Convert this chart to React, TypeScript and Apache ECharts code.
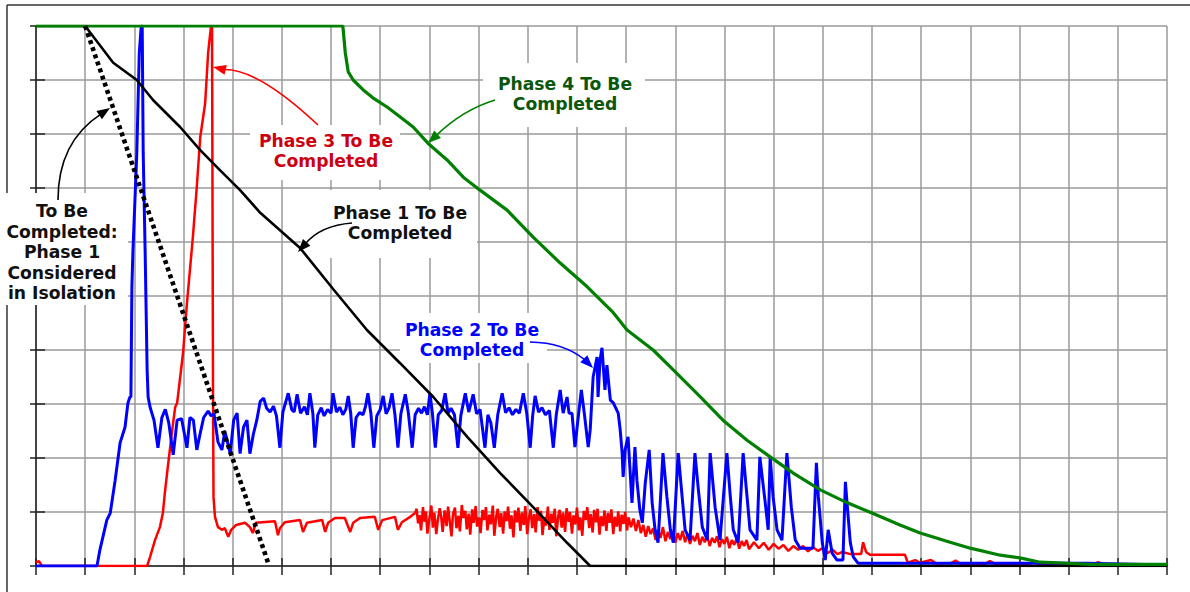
import React, { useEffect, useRef } from "react";
import * as echarts from "echarts";

// X axis: 0..230 (23 grid cells), Y axis: 0..100 (10 grid cells)
const xTicks = { min: 0, max: 230, interval: 10 };
const yTicks = { min: 0, max: 100, interval: 10 };

const phase1Pts: [number, number][] = [
  [0, 100], [10, 100], [15.7, 93.2], [20.5, 90], [23.8, 86.3], [29.3, 81.3], [33.4, 77],
  [37.4, 73.3], [41.5, 69.6], [45.6, 65.4], [53.7, 58.9], [60.5, 51.2], [67.3, 43.7],
  [74, 37.6], [80.8, 31.3], [87.7, 23.9], [94.4, 17.2], [101.1, 10.9], [108, 4.3],
  [112.7, 0], [230, 0],
];

const isolationPts: [number, number][] = [
  [10, 100], [47.2, 0.6],
];

const phase4Pts: [number, number][] = [
  [0, 100], [62.4, 100], [62.9, 95], [63.5, 91.5], [64.5, 90], [66.5, 88.2], [68.5, 86.7],
  [71.4, 85], [74, 83.2], [76.7, 81.3], [79.7, 78.3], [83.6, 75.2], [86.9, 72], [90.3, 69.6],
  [95.8, 65.9], [101.1, 60.9], [106.6, 56.1], [112.1, 51.7], [117.4, 46.9], [120.2, 43.7],
  [125.5, 40], [129.6, 36.3], [135.1, 31.3], [139.7, 27], [144.6, 23.3], [149.3, 20.2],
  [154, 17.2], [159.5, 14.1], [165, 11.7], [170, 9.8], [175.7, 7.6], [179.8, 6.1],
  [185.9, 4.4], [190, 3.3], [196.1, 2], [200.1, 1.5], [204.2, 0.7], [207.7, 0.6],
  [214.4, 0.3], [230, 0.3],
];

const phase2Pts: [number, number][] = [
  [0, 0], [12.4, 0], [13, 3], [14.4, 8.5], [15.1, 9.8], [16.1, 15.9], [17.1, 22.8],
  [18.1, 25.7], [18.7, 30.2], [19.1, 31.3], [19.3, 31.3], [19.5, 51.7], [19.7, 58],
  [20.5, 76.5], [21, 95], [21.4, 100], [21.6, 100], [21.8, 76.5], [22.2, 58], [22.6, 36.3],
  [22.8, 31.3], [23.2, 29.4], [24, 27], [24.8, 21.9], [25.6, 27.5], [26.3, 29], [27, 26.5],
  [27.9, 20.6], [28.7, 27], [29.6, 27.3], [30.7, 21.9], [31.3, 27.5], [32, 27], [32.7, 21.5],
  [33.4, 24.6], [34.1, 27.5], [35, 28.7], [35.6, 27.8], [36.2, 28.2], [37, 23], [37.8, 21.5],
  [38.4, 25], [39.5, 20.8], [40.2, 27], [40.9, 28.3], [41.5, 20.8], [42.2, 25.7], [42.9, 27],
  [43.5, 20.8], [44.2, 24.4], [44.9, 27], [45.6, 30.5], [46.3, 31.1], [46.9, 29.2],
  [47.6, 28.5], [48.3, 29.6], [48.9, 27.8], [49.6, 21.9], [50.2, 28.5], [51.3, 32], [52, 29],
  [52.5, 28.5], [53.1, 31.8], [53.8, 28.3], [54.6, 29.5], [55.2, 28], [55.7, 32], [56.3, 28.3],
  [56.7, 21.9], [57.3, 28], [58, 29.3], [58.6, 27.8], [59.3, 29], [60, 28.3], [60.4, 32],
  [61.1, 28.5], [61.8, 29.4], [62.4, 28], [63, 29], [63.5, 31.5], [64, 28.3], [64.5, 21.9],
  [65.1, 27.5], [65.8, 28.4], [66.5, 28], [67, 29.5], [67.5, 32], [68.1, 28.3], [68.7, 21.9],
  [69.3, 27.8], [70, 29], [70.6, 31.5], [71.2, 28.2], [71.8, 29.3], [72.4, 32], [73, 28],
  [73.6, 21.9], [74.2, 28.2], [75.1, 31.8], [75.7, 28.5], [76.5, 21.9], [77.1, 28],
  [77.8, 29.2], [78.4, 28.3], [79, 29.5], [79.6, 28], [80.1, 32], [80.6, 28.4], [81.2, 21.9],
  [81.8, 28], [82.5, 28.8], [83.2, 32], [83.8, 28.3], [84.4, 29.2], [85.1, 28], [85.8, 21.9],
  [86.4, 27.9], [87.3, 32], [88, 28.5], [88.9, 31.8], [89.6, 28.2], [90.3, 29], [91.3, 21.9],
  [91.9, 28], [92.5, 26.5], [93.2, 21.9], [93.9, 28], [94.8, 32], [95.5, 28.4], [96.2, 29.3],
  [96.9, 28], [97.6, 29], [98.3, 28.3], [99.1, 32], [99.8, 28.3], [100.5, 21.9], [101, 27.8],
  [101.5, 31.5], [102.2, 28.5], [102.9, 29.3], [103.6, 28], [104.4, 28.8], [105.2, 21.9],
  [105.8, 28], [106.6, 32.6], [107.2, 28.3], [108, 31.3], [108.4, 28.3], [109, 28.3],
  [109.6, 22], [110.2, 27], [110.9, 32.6], [111.5, 28.3], [112.3, 22], [112.7, 25.2],
  [113.3, 35], [114.1, 38.7], [114.3, 31.3], [114.7, 38.1], [115.1, 40.4], [115.7, 32.6],
  [116.1, 37.2], [116.8, 30.7], [117.4, 30.2], [118.4, 28.3], [118.8, 25.2], [119.2, 20.9],
  [119.4, 16.5], [119.8, 21.5], [120.4, 23.9], [120.8, 17.8], [121.2, 11.7], [121.8, 22],
  [122.2, 15.9], [122.8, 10.4], [123.3, 8], [123.9, 15.4], [124.7, 21.5], [125.3, 11.7],
  [125.9, 6.7], [126.5, 4.3], [127.5, 20.9], [128.3, 12.8], [129, 6.7], [129.6, 4.3],
  [130.6, 20.9], [131.4, 12.8], [132, 6.7], [133, 4.8], [134, 20.9], [134.7, 14.1],
  [135.5, 7.2], [136.5, 4.8], [137.1, 20.9], [138.1, 10.9], [139.1, 4.8], [140.5, 20.9],
  [141.2, 12.8], [141.8, 6.7], [142.8, 4.3], [143.8, 20.9], [144.6, 12.8], [145.2, 6.7],
  [146.6, 4.8], [147.2, 20.2], [148.3, 11.7], [148.9, 6.7], [149.3, 20.2], [149.9, 12.8],
  [150.7, 6.7], [151.7, 4.8], [152.7, 20.9], [153.6, 10.9], [154.4, 4.8], [155.4, 3.3],
  [158, 3.3], [158.7, 19.1], [159.1, 12.8], [159.9, 4.3], [160.5, 1.1], [161.1, 6.7],
  [161.9, 2.4], [162.9, 1.1], [164.1, 1.1], [164.6, 15.6], [165, 10.9], [165.6, 4.3],
  [166.2, 1.7], [167.2, 0.5], [214, 0.5], [230, 0.2],
];

const phase3Pts: [number, number][] = [
  [0, 0.7], [0.6, 0.9], [1.2, 0], [22.6, 0], [23.2, 1.7], [24.2, 4.8], [25.2, 7.2],
  [25.8, 9.8], [26.2, 13.5], [26.8, 18.3], [27.7, 25.2], [28.3, 29.4], [28.7, 30.2],
  [29.9, 39.4], [30.7, 48.7], [31.9, 60.9], [32.7, 70.2], [33.4, 79.4], [34.4, 85.7],
  [35, 95], [35.6, 100], [35.8, 100], [36, 31.3], [36.1, 12.8], [36.4, 9.1], [37, 7.2],
  [37.8, 6.7], [38.4, 7], [39.1, 5.4], [39.7, 6.7], [40.7, 7.6], [42.5, 8], [43.5, 7.2],
  [44.1, 6.1], [44.7, 8], [46, 8.1], [48.6, 8.3], [49.2, 5.7], [49.6, 7], [50.6, 8.1],
  [53.7, 8.5], [54.3, 6.3], [55.1, 8], [58.2, 8.5], [58.8, 6.3], [59.4, 8], [60.8, 8.9],
  [62.8, 8.9], [63.9, 6.3], [64.5, 8], [65.9, 8.9], [68.9, 9.1], [69.6, 6.7], [70.4, 8.5],
  [73, 9.1], [73.6, 6.7], [74.4, 8.1], [76.1, 9.1], [77.1, 9.8],
  [77.4, 10.6], [77.7, 7.9], [78, 9.4], [78.3, 6.6], [78.7, 10.9], [79, 8.2], [79.3, 10.1],
  [79.6, 6], [80, 8.8], [80.4, 11.2], [80.7, 7.1], [81, 9.9], [81.4, 5.9], [81.7, 8.4],
  [82.1, 10.7], [82.4, 9.1], [82.7, 6.3], [83.1, 10.3], [83.5, 7.4], [83.8, 11], [84.1, 8.6],
  [84.5, 5.5], [84.8, 9.6], [85.2, 10.8], [85.5, 7], [85.9, 9.3], [86.2, 6.4], [86.6, 11.3],
  [86.9, 8.9], [87.3, 10.2], [87.6, 6.8], [88, 9.7], [88.3, 5.8], [88.7, 10.5], [89, 8],
  [89.4, 11.1], [89.7, 7.3], [90.1, 9], [90.4, 6.1], [90.8, 10.4], [91.1, 8.5], [91.5, 10.9],
  [91.8, 6.6], [92.2, 9.5], [92.5, 7.7], [92.9, 11.2], [93.2, 5.6], [93.6, 9.2], [93.9, 10.6],
  [94.3, 7.2], [94.6, 9.8], [95, 6], [95.3, 10.1], [95.7, 8.3], [96, 11], [96.4, 6.9],
  [96.7, 9.4], [97.1, 5.3], [97.4, 10.3], [97.8, 8.1], [98.1, 10.8], [98.5, 6.5], [98.8, 9.9],
  [99.2, 7.6], [99.5, 11.1], [99.9, 5.9], [100.2, 8.7], [100.6, 10.5], [100.9, 7], [101.3, 9.6],
  [101.6, 6.2], [102, 10.9], [102.3, 8.4], [102.7, 10.2], [103, 5.7], [103.4, 9.1], [103.7, 7.5],
  [104.1, 11], [104.4, 6.7], [104.8, 9.7], [105.1, 8], [105.5, 10.6], [105.8, 5.5], [106.2, 9.3],
  [106.5, 10.4], [106.9, 7.1], [107.2, 9.9], [107.6, 6.3], [107.9, 10.7], [108.3, 8.2],
  [108.6, 10], [109, 6], [109.3, 9.4], [109.7, 7.7], [110, 10.8], [110.4, 6.6], [110.7, 9],
  [111.1, 5.6], [111.4, 10.2], [111.8, 8.5], [112.1, 10.9], [112.5, 7], [112.8, 9.6],
  [113.2, 6.2], [113.5, 10.4], [113.9, 8.1], [114.2, 10.6], [114.6, 5.8], [114.9, 9.2],
  [115.3, 7.4], [115.6, 10.3], [116, 6.5], [116.3, 9.8], [116.7, 8], [117, 10.5], [117.4, 5.9],
  [117.7, 9.1], [118.1, 7.3], [118.4, 10.1], [118.8, 6.4], [119.1, 9.5], [119.5, 7.8],
  [119.8, 10], [120.2, 6.6], [120.5, 9], [121, 7.2],
  [121.5, 8.8], [122, 6.5], [122.5, 8.5], [123, 6.1], [123.5, 7.6], [124, 5.4], [124.5, 7.4],
  [125, 5.9], [125.5, 7], [126, 4.8], [126.5, 6.7], [127, 5.2], [127.5, 7.2], [128, 4.6],
  [128.5, 6.3], [129, 5], [129.5, 6.5], [130, 4.3], [130.5, 6.1], [131, 4.8], [131.5, 6.5],
  [132, 4.4], [132.5, 5.9], [133, 4.1], [133.5, 5.6], [134, 4.6], [134.5, 6.1], [135, 3.9],
  [135.5, 5.4], [136, 4.4], [136.5, 5.7], [137, 3.7], [137.5, 5.2], [138, 4.3], [138.5, 5.5],
  [139, 3.5], [139.5, 5], [140, 4.1], [140.5, 5.4], [141, 3.3], [141.5, 4.8], [142, 3.9],
  [142.5, 5.2], [143, 3.2], [143.5, 4.6], [144, 3.7], [144.5, 4.8], [145, 3.1], [146, 4.4],
  [147, 3.3], [148, 4.3], [149, 3], [150, 4.1], [151, 3.2], [152, 3.9], [153, 2.8],
  [154, 3.7], [155, 3], [156, 3.7], [157, 2.7], [158, 3.5], [159, 2.8], [160, 3.3],
  [161, 2.4], [162, 3], [163, 2.2], [164, 2.6], [165.6, 2.2], [167.8, 2.2], [168.2, 4.4],
  [168.8, 2.6], [169.6, 2.1], [176.7, 2.1], [177.3, 0.6], [178.8, 1.1], [179.8, 0.6],
  [182, 1.1], [183, 0.5], [186, 0.5], [187, 1], [188, 0.4], [193, 0.4], [194, 0.9],
  [195, 0.4], [202, 0.4], [203, 0.8], [204, 0.3], [215, 0.3], [216, 0.7], [217, 0.3],
  [228.6, 0.2], [230, 0],
];

const labels = {
  phase1: "Phase 1 To Be\nCompleted",
  phase2: "Phase 2 To Be\nCompleted",
  phase3: "Phase 3 To Be\nCompleted",
  phase4: "Phase 4 To Be\nCompleted",
  isolation: "To Be\nCompleted:\nPhase 1\nConsidered\nin Isolation",
};

const FONT = 'bold 17.2px "DejaVu Sans", sans-serif';

function arrow(
  p0: [number, number],
  cp: [number, number],
  base: [number, number],
  tip: [number, number],
  color: string
) {
  const dx = tip[0] - base[0];
  const dy = tip[1] - base[1];
  const len = Math.sqrt(dx * dx + dy * dy) || 1;
  const ux = dx / len;
  const uy = dy / len;
  const L = 13;
  const W = 5;
  const bx = tip[0] - ux * L;
  const by = tip[1] - uy * L;
  return [
    {
      type: "bezierCurve",
      z: 5,
      shape: { x1: p0[0], y1: p0[1], cpx1: cp[0], cpy1: cp[1], x2: bx + ux * 2, y2: by + uy * 2 },
      style: { stroke: color, lineWidth: 1.6, fill: null },
    },
    {
      type: "polygon",
      z: 5,
      shape: {
        points: [
          [tip[0], tip[1]],
          [bx - uy * W, by + ux * W],
          [bx + uy * W, by - ux * W],
        ],
      },
      style: { fill: color },
    },
  ];
}

function label(text: string, x: number, y: number, color: string, lh = 20) {
  return {
    type: "text",
    z: 10,
    x,
    y,
    style: {
      text,
      fill: color,
      font: FONT,
      align: "center",
      verticalAlign: "middle",
      lineHeight: lh,
    },
  };
}

function whiteBox(x: number, y: number, w: number, h: number) {
  return { type: "rect", z: 1, shape: { x, y, width: w, height: h }, style: { fill: "#ffffff" } };
}

export default function App() {
  const ref = useRef<HTMLDivElement>(null);
  useEffect(() => {
    if (!ref.current) return;
    const chart = echarts.init(ref.current, null, { renderer: "svg" });
    const axisDark = "#222";
    const gridGray = "#9a9a9a";
    const option: any = {
      animation: false,
      backgroundColor: "#ffffff",
      grid: { left: 36, top: 26, width: 1131, height: 540, containLabel: false },
      xAxis: [
        {
          type: "value",
          position: "bottom",
          ...xTicks,
          axisLabel: { show: false },
          axisLine: { show: true, lineStyle: { color: axisDark, width: 1.5 } },
          axisTick: { show: true, length: 9, lineStyle: { color: axisDark, width: 1.5 } },
          splitLine: { show: true, lineStyle: { color: gridGray, width: 1.5 } },
        },
        {
          type: "value",
          position: "bottom",
          ...xTicks,
          axisLabel: { show: false },
          axisLine: { show: false },
          axisTick: { show: true, inside: true, length: 8, lineStyle: { color: axisDark, width: 1.5 } },
          splitLine: { show: false },
        },
      ],
      yAxis: [
        {
          type: "value",
          position: "left",
          ...yTicks,
          axisLabel: { show: false },
          axisLine: { show: true, lineStyle: { color: axisDark, width: 1.5 } },
          axisTick: { show: true, length: 6, lineStyle: { color: axisDark, width: 1.5 } },
          splitLine: { show: true, lineStyle: { color: gridGray, width: 1.5 } },
        },
        {
          type: "value",
          position: "left",
          ...yTicks,
          axisLabel: { show: false },
          axisLine: { show: false },
          axisTick: { show: true, inside: true, length: 9, lineStyle: { color: axisDark, width: 1.5 } },
          splitLine: { show: false },
        },
      ],
      series: [
        {
          name: "Phase 3",
          type: "line",
          data: phase3Pts,
          showSymbol: false,
          lineStyle: { color: "#ff0000", width: 2.5 },
          z: 2,
        },
        {
          name: "Phase 2",
          type: "line",
          data: phase2Pts,
          showSymbol: false,
          lineStyle: { color: "#0000ff", width: 3 },
          z: 3,
        },
        {
          name: "Phase 1",
          type: "line",
          data: phase1Pts,
          showSymbol: false,
          lineStyle: { color: "#000000", width: 2.6 },
          z: 4,
        },
        {
          name: "Phase 4",
          type: "line",
          data: phase4Pts,
          showSymbol: false,
          lineStyle: { color: "#008000", width: 3.2 },
          z: 5,
        },
        {
          name: "Phase 1 in isolation",
          type: "line",
          data: isolationPts,
          showSymbol: false,
          lineStyle: { color: "#000000", width: 4.6, type: [4, 3.5] },
          z: 6,
        },
      ],
      graphic: [
        { type: "line", z: 0, shape: { x1: 7, y1: 5, x2: 1190, y2: 5 }, style: { stroke: "#333", lineWidth: 1.5 } },
        { type: "line", z: 0, shape: { x1: 7, y1: 5, x2: 7, y2: 592 }, style: { stroke: "#333", lineWidth: 1.5 } },
        whiteBox(250, 125, 150, 55),
        whiteBox(483, 63, 162, 64),
        whiteBox(301, 190, 176, 68),
        whiteBox(400, 313, 147, 50),
        whiteBox(0, 193, 128, 112),
        label(labels.phase3, 326, 151, "#cc0011"),
        label(labels.phase4, 565, 94, "#0a560a"),
        label(labels.phase1, 400, 223, "#111111"),
        label(labels.phase2, 472, 340, "#0000ff"),
        label(labels.isolation, 62, 252, "#111111", 20.5),
        ...arrow([318, 125], [258, 68.5], [226, 70], [213, 67], "#ff0000"),
        ...arrow([495, 100], [462.5, 110], [440, 132], [428, 143], "#008000"),
        ...arrow([352, 223], [320.5, 225.5], [307, 242], [298, 252], "#000000"),
        ...arrow([530, 342], [564, 342.5], [582, 357], [593, 368], "#0000ff"),
        ...arrow([58, 200], [58, 142], [98, 116], [110, 108], "#000000"),
      ],
    };
    chart.setOption(option);
    return () => chart.dispose();
  }, []);
  return (
    <div
      ref={ref}
      style={{ position: "absolute", left: 0, top: 0, width: 1190, height: 592, background: "#fff" }}
    />
  );
}
